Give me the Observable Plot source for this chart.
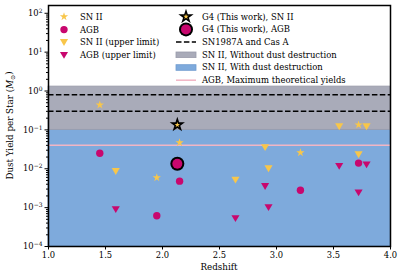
<!DOCTYPE html>
<html>
<head>
<meta charset="utf-8">
<script src="https://cdn.jsdelivr.net/npm/d3@7"></script>
<script src="https://cdn.jsdelivr.net/npm/@observablehq/plot@0.6"></script>
<style>
  html, body { margin: 0; padding: 0; background: white; }
  #chart svg { display: block; }
</style>
</head>
<body>
<div id="chart"></div>
<script>
// ---- data ----
const snII_z = [1.45, 1.95, 2.15, 3.21, 3.72];
const snII_y = [0.44, 0.0059, 0.047, 0.026, 0.135];
const snIIUL_z = [1.59, 2.64, 2.90, 2.93, 3.55, 3.72, 3.79];
const snIIUL_y = [0.0085, 0.0051, 0.035, 0.010, 0.12, 0.023, 0.12];
const agb_z = [1.45, 1.95, 2.15, 3.21, 3.72];
const agb_y = [0.025, 0.00062, 0.0048, 0.0028, 0.014];
const agbUL_z = [1.59, 2.64, 2.90, 2.93, 3.55, 3.72, 3.79];
const agbUL_y = [0.00089, 0.00052, 0.0035, 0.0010, 0.0115, 0.0024, 0.0126];
const g4_z = [2.13];
const g4_snII = [0.135];
const g4_agb = [0.0135];
const obsLines = [0.8, 0.3];           // SN1987A and Cas A
const bandNoDestr = [0.1, 1.3];        // SN II, without dust destruction
const bandWithDestr = [1e-4, 0.1];     // SN II, with dust destruction
const agbMax = [0.04];                 // AGB maximum theoretical yield
const xDomain = [1, 4];
const yDomain = [1e-4, Math.pow(10, 2.2)];
const xTicks = [1.0, 1.5, 2.0, 2.5, 3.0, 3.5, 4.0];
const yTickExp = [-4, -3, -2, -1, 0, 1, 2];
const legendLeft = ["SN II", "AGB", "SN II (upper limit)", "AGB (upper limit)"];
const legendRight = ["G4 (This work), SN II", "G4 (This work), AGB", "SN1987A and Cas A",
  "SN II, Without dust destruction", "SN II, With dust destruction", "AGB, Maximum theoretical yields"];

// ---- styles ----
const YEL = "#f8c64a", MAG = "#c8076e", BLUE = "#7eaadc", GRAY = "#a9abb9", PINK = "#f2b5c4";
const FONT = "DejaVu Serif";

const pts = (zs, ys) => zs.map((z, i) => ({z, y: ys[i]}));
const yMajor = yTickExp.map(e => Math.pow(10, e));
const yMinor = [];
for (let e = -4; e < 2; e++) for (let m = 2; m <= 9; m++) yMinor.push(m * Math.pow(10, e));
for (let m = 2; m <= 9; m++) if (m * 100 <= yDomain[1]) yMinor.push(m * 100);

const triDown = {
  draw(ctx, size) {
    const r = Math.sqrt(size / Math.PI);
    const w = 1.35 * r, h = 1.15 * r;
    ctx.moveTo(-w, -h); ctx.lineTo(w, -h); ctx.lineTo(0, h); ctx.closePath();
  }
};

// measure text widths to size fonts
const probe = d3.select("body").append("svg").attr("width", 10).attr("height", 10)
  .style("position", "absolute").style("left", "-1000px");
function fitSize(str, target) {
  const t = probe.append("text").attr("font-family", FONT).attr("font-size", "20px").text(str);
  const w = t.node().getComputedTextLength();
  t.remove();
  return w > 0 ? 20 * target / w : 8;
}
const tickFS = fitSize("2.5", 13.3);
const legFS = (fitSize("SN II, Without dust destruction", 127.5) +
               fitSize("AGB, Maximum theoretical yields", 145.5) +
               fitSize("SN II (upper limit)", 83)) / 3;
const labFS = fitSize("Redshift", 37);
probe.remove();

const chart = Plot.plot({
  width: 399, height: 278,
  marginLeft: 48, marginRight: 9, marginTop: 5, marginBottom: 32,
  style: {fontFamily: FONT, fontSize: tickFS + "px", background: "white", color: "black"},
  x: {domain: xDomain},
  y: {type: "log", domain: yDomain},
  marks: [
    Plot.rect([bandWithDestr], {x1: () => xDomain[0], x2: () => xDomain[1], y1: d => d[0], y2: d => d[1], fill: BLUE, stroke: "#6f9ccf", strokeWidth: 0.8}),
    Plot.rect([bandNoDestr], {x1: () => xDomain[0], x2: () => xDomain[1], y1: d => d[0], y2: d => d[1], fill: GRAY, stroke: "#9a9cab", strokeWidth: 0.8}),
    Plot.ruleY(obsLines, {stroke: "black", strokeWidth: 1.5, strokeDasharray: "5.5,2.4"}),
    Plot.ruleY(agbMax, {stroke: PINK, strokeWidth: 1.5}),
    Plot.dot(pts(snII_z, snII_y), {x: "z", y: "y", symbol: "star", r: 2.6, fill: YEL}),
    Plot.dot(pts(agb_z, agb_y), {x: "z", y: "y", symbol: "circle", r: 3.7, fill: MAG}),
    Plot.dot(pts(snIIUL_z, snIIUL_y), {x: "z", y: "y", symbol: triDown, r: 3.0, fill: YEL}),
    Plot.dot(pts(agbUL_z, agbUL_y), {x: "z", y: "y", symbol: triDown, r: 3.0, fill: MAG}),
    Plot.dot(pts(g4_z, g4_snII), {x: "z", y: "y", symbol: "star", r: 4.8, fill: "black"}),
    Plot.dot(pts(g4_z, g4_snII), {x: "z", y: "y", symbol: "star", r: 1.7, fill: YEL}),
    Plot.dot(pts(g4_z, g4_agb), {x: "z", y: "y", symbol: "circle", r: 7, fill: "black"}),
    Plot.dot(pts(g4_z, g4_agb), {x: "z", y: "y", symbol: "circle", r: 5, fill: MAG}),
    Plot.axisX({ticks: xTicks, tickFormat: d => d.toFixed(1), tickSize: 3.5, tickPadding: 2, label: null, strokeWidth: 1}),
    Plot.axisY({ticks: yMajor, tickFormat: d => "10^" + Math.round(Math.log10(d)), tickSize: 3.5, tickPadding: 2.5, label: null}),
    Plot.axisY({ticks: yMinor, tickFormat: () => "", tickSize: 2, label: null}),
    Plot.frame({stroke: "black", strokeWidth: 1.5})
  ]
});
document.getElementById("chart").appendChild(chart);

const svg = d3.select(chart);
// superscript tick labels
svg.selectAll('g[aria-label="y-axis tick label"] text').each(function() {
  const t = d3.select(this);
  const s = t.text();
  if (!s.startsWith("10^")) return;
  const e = s.slice(3).replace("-", "\u2212");
  t.text("10");
  t.append("tspan").attr("dy", "-0.5em").attr("font-size", "72%").text(e);
});

// axis labels
svg.append("text").attr("x", 219).attr("y", 270).attr("text-anchor", "middle")
  .attr("font-family", FONT).attr("font-size", labFS + "px").text("Redshift");
const yl = svg.append("text").attr("transform", "translate(13,125.5) rotate(-90)")
  .attr("text-anchor", "middle").attr("font-family", FONT).attr("font-size", labFS + "px");
yl.append("tspan").text("Dust Yield per Star (");
yl.append("tspan").attr("font-style", "italic").text("M");
yl.append("tspan").attr("font-size", "70%").attr("dy", "0.3em").text("\u2299");
yl.append("tspan").attr("dy", "-0.3em").text(")");

// legend
const lg = svg.append("g").attr("font-family", FONT).attr("font-size", legFS + "px").attr("text-anchor", "start");
const sym = (type, r) => d3.symbol().type(type).size(Math.PI * r * r)();
const leftY = [16.7, 29.6, 42.5, 55.4];
const leftMarks = [
  [d3.symbolStar, 2.6, YEL], [d3.symbolCircle, 3.7, MAG], [triDown, 3.0, YEL], [triDown, 3.0, MAG]
];
legendLeft.forEach((t, i) => {
  const [ty, r, c] = leftMarks[i];
  lg.append("path").attr("d", sym(ty, r)).attr("fill", c).attr("transform", `translate(64,${leftY[i]})`);
  lg.append("text").attr("x", 80).attr("y", leftY[i]).attr("dy", "0.35em").text(t);
});
const rightY = [16.7, 29.4, 42.1, 54.8, 67.5, 80.2];
legendRight.forEach((t, i) => {
  lg.append("text").attr("x", 202).attr("y", rightY[i]).attr("dy", "0.35em").text(t);
});
const hx = 186;
lg.append("path").attr("d", sym(d3.symbolStar, 4.8)).attr("fill", "black").attr("transform", `translate(${hx},${rightY[0]})`);
lg.append("path").attr("d", sym(d3.symbolStar, 1.7)).attr("fill", YEL).attr("transform", `translate(${hx},${rightY[0]})`);
lg.append("circle").attr("cx", hx).attr("cy", rightY[1]).attr("r", 7).attr("fill", "black");
lg.append("circle").attr("cx", hx).attr("cy", rightY[1]).attr("r", 5).attr("fill", MAG);
lg.append("line").attr("x1", 176).attr("x2", 196).attr("y1", rightY[2]).attr("y2", rightY[2])
  .attr("stroke", "black").attr("stroke-width", 1.5).attr("stroke-dasharray", "5.5,2.4");
lg.append("rect").attr("x", 176).attr("y", rightY[3] - 2.8).attr("width", 20).attr("height", 5.6).attr("fill", GRAY).attr("stroke", "#9a9cab").attr("stroke-width", 0.8);
lg.append("rect").attr("x", 176).attr("y", rightY[4] - 2.8).attr("width", 20).attr("height", 5.6).attr("fill", BLUE).attr("stroke", "#6f9ccf").attr("stroke-width", 0.8);
lg.append("line").attr("x1", 176).attr("x2", 196).attr("y1", rightY[5]).attr("y2", rightY[5])
  .attr("stroke", PINK).attr("stroke-width", 1.5);
</script>
</body>
</html>
